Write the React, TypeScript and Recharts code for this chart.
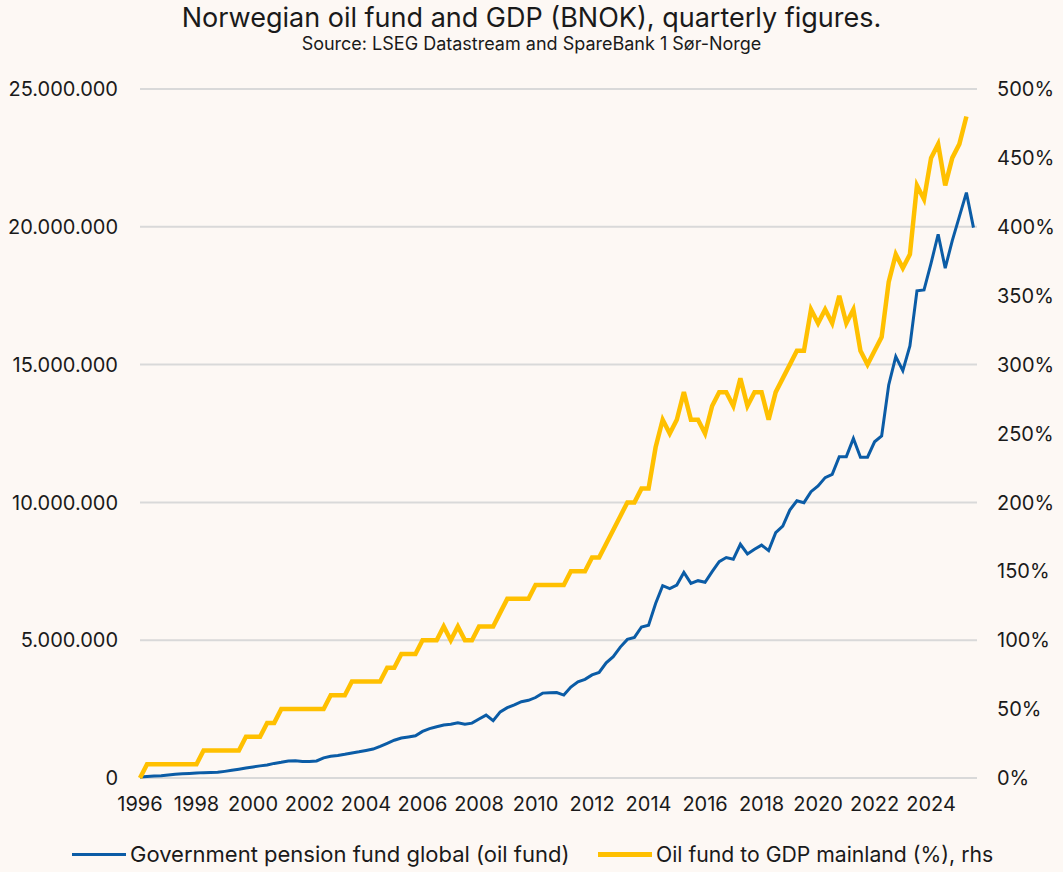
import React from 'react';
import { LineChart, Line, XAxis, YAxis, CartesianGrid } from 'recharts';

const quarters: string[] = [
  '1996Q1','1996Q2','1996Q3','1996Q4','1997Q1','1997Q2','1997Q3','1997Q4',
  '1998Q1','1998Q2','1998Q3','1998Q4','1999Q1','1999Q2','1999Q3','1999Q4',
  '2000Q1','2000Q2','2000Q3','2000Q4','2001Q1','2001Q2','2001Q3','2001Q4',
  '2002Q1','2002Q2','2002Q3','2002Q4','2003Q1','2003Q2','2003Q3','2003Q4',
  '2004Q1','2004Q2','2004Q3','2004Q4','2005Q1','2005Q2','2005Q3','2005Q4',
  '2006Q1','2006Q2','2006Q3','2006Q4','2007Q1','2007Q2','2007Q3','2007Q4',
  '2008Q1','2008Q2','2008Q3','2008Q4','2009Q1','2009Q2','2009Q3','2009Q4',
  '2010Q1','2010Q2','2010Q3','2010Q4','2011Q1','2011Q2','2011Q3','2011Q4',
  '2012Q1','2012Q2','2012Q3','2012Q4','2013Q1','2013Q2','2013Q3','2013Q4',
  '2014Q1','2014Q2','2014Q3','2014Q4','2015Q1','2015Q2','2015Q3','2015Q4',
  '2016Q1','2016Q2','2016Q3','2016Q4','2017Q1','2017Q2','2017Q3','2017Q4',
  '2018Q1','2018Q2','2018Q3','2018Q4','2019Q1','2019Q2','2019Q3','2019Q4',
  '2020Q1','2020Q2','2020Q3','2020Q4','2021Q1','2021Q2','2021Q3','2021Q4',
  '2022Q1','2022Q2','2022Q3','2022Q4','2023Q1','2023Q2','2023Q3','2023Q4',
  '2024Q1','2024Q2','2024Q3','2024Q4','2025Q1','2025Q2','2025Q3',
];

// Government pension fund global, NOK million
const oilFund: number[] = [
  40000, 55000, 70000, 85000,
  110000, 140000, 150000, 165000,
  180000, 195000, 200000, 205000,
  240000, 280000, 320000, 360000,
  400000, 440000, 470000, 530000,
  570000, 620000, 630000, 600000,
  595000, 620000, 730000, 790000,
  820000, 860000, 910000, 950000,
  1000000, 1050000, 1150000, 1260000,
  1370000, 1450000, 1490000, 1530000,
  1690000, 1790000, 1860000, 1920000,
  1950000, 2000000, 1950000, 1990000,
  2140000, 2280000, 2080000, 2400000,
  2550000, 2650000, 2770000, 2820000,
  2920000, 3080000, 3090000, 3100000,
  3010000, 3300000, 3490000, 3580000,
  3740000, 3830000, 4180000, 4400000,
  4750000, 5030000, 5100000, 5480000,
  5540000, 6330000, 6980000, 6870000,
  7000000, 7460000, 7060000, 7160000,
  7100000, 7490000, 7850000, 8000000,
  7940000, 8480000, 8130000, 8300000,
  8450000, 8250000, 8900000, 9140000,
  9720000, 10060000, 9990000, 10390000,
  10600000, 10900000, 11020000, 11660000,
  11660000, 12320000, 11640000, 11640000,
  12200000, 12410000, 14260000, 15290000,
  14780000, 15680000, 17680000, 17710000,
  18680000, 19730000, 18500000, 19500000,
  20370000, 21240000, 19970000,
];

// Oil fund to GDP mainland, %
const fundToGdp: (number | null)[] = [
  0, 10, 10, 10,
  10, 10, 10, 10,
  10, 20, 20, 20,
  20, 20, 20, 30,
  30, 30, 40, 40,
  50, 50, 50, 50,
  50, 50, 50, 60,
  60, 60, 70, 70,
  70, 70, 70, 80,
  80, 90, 90, 90,
  100, 100, 100, 110,
  100, 110, 100, 100,
  110, 110, 110, 120,
  130, 130, 130, 130,
  140, 140, 140, 140,
  140, 150, 150, 150,
  160, 160, 170, 180,
  190, 200, 200, 210,
  210, 240, 260, 250,
  260, 280, 260, 260,
  250, 270, 280, 280,
  270, 290, 270, 280,
  280, 260, 280, 290,
  300, 310, 310, 340,
  330, 340, 330, 350,
  330, 340, 310, 300,
  310, 320, 360, 380,
  370, 380, 430, 420,
  450, 460, 430, 450,
  460, 480, null,
];

const tickYears: number[] = [1996, 1998, 2000, 2002, 2004, 2006, 2008, 2010, 2012, 2014, 2016, 2018, 2020, 2022, 2024];
const leftTicks: number[] = [0, 5000000, 10000000, 15000000, 20000000, 25000000];
const rightTicks: number[] = [0, 50, 100, 150, 200, 250, 300, 350, 400, 450, 500];

const TITLE = 'Norwegian oil fund and GDP (BNOK), quarterly figures.';
const SUBTITLE = 'Source: LSEG Datastream and SpareBank 1 Sør-Norge';
const SERIES_FUND = 'Government pension fund global (oil fund)';
const SERIES_RATIO = 'Oil fund to GDP mainland (%), rhs';

const BG = '#fdf8f4';
const BLUE = '#0b5ca6';
const YELLOW = '#ffc000';
const TEXT = '#1a1a1a';
const GRID = '#d9d9d9';
const FONT = 'Inter, "Open Sans", sans-serif';

const fmtDots = (v: number) => String(Math.round(v)).replace(/\B(?=(\d{3})+(?!\d))/g, '.');

export default function App() {
  const data = quarters.map((q, i) => ({ i, q, fund: oilFund[i], ratio: fundToGdp[i] }));
  const xTicks = tickYears.map((y) => quarters.indexOf(`${y}Q1`));
  const labelFor = (v: number) => {
    const q = quarters[Math.round(v)];
    return q ? q.slice(0, 4) : '';
  };
  const tickStyle = { fontSize: 20, fill: TEXT, fontFamily: FONT };
  return (
    <div style={{ position: 'fixed', left: 0, top: 0, width: 1063, height: 872, background: BG, fontFamily: FONT, color: TEXT, overflow: 'hidden' }}>
      <div style={{ position: 'absolute', top: 2, left: 0, width: 1063, textAlign: 'center', fontSize: 27, lineHeight: '32px' }}>{TITLE}</div>
      <div style={{ position: 'absolute', top: 34, left: 0, width: 1063, textAlign: 'center', fontSize: 18, lineHeight: '20px' }}>{SUBTITLE}</div>
      <div style={{ position: 'absolute', left: 0, top: 0 }}>
        <LineChart width={1063} height={872} data={data} margin={{ top: 89, right: 0, bottom: 0, left: 0 }}>
          <CartesianGrid vertical={false} stroke={GRID} strokeWidth={2} yAxisId="left" />
          <XAxis
            type="number"
            dataKey="i"
            domain={[0, 118.5]}
            ticks={xTicks}
            interval={0}
            tickFormatter={labelFor}
            height={94}
            axisLine={false}
            tickLine={false}
            tickSize={0}
            tickMargin={19}
            tick={tickStyle}
          />
          <YAxis
            yAxisId="left"
            width={140}
            domain={[0, 25000000]}
            ticks={leftTicks}
            interval={0}
            tickFormatter={fmtDots}
            axisLine={false}
            tickLine={false}
            tickSize={0}
            tickMargin={22}
            tick={tickStyle}
          />
          <YAxis
            yAxisId="right"
            orientation="right"
            width={86}
            domain={[0, 500]}
            ticks={rightTicks}
            interval={0}
            tickFormatter={(v: number) => `${v}%`}
            axisLine={false}
            tickLine={false}
            tickSize={0}
            tickMargin={20}
            tick={tickStyle}
          />
          <Line yAxisId="left" type="linear" dataKey="fund" name={SERIES_FUND} stroke={BLUE} strokeWidth={3} dot={false} activeDot={false} isAnimationActive={false} />
          <Line yAxisId="right" type="linear" dataKey="ratio" name={SERIES_RATIO} stroke={YELLOW} strokeWidth={4.5} dot={false} activeDot={false} isAnimationActive={false} />
        </LineChart>
      </div>
      <div style={{ position: 'absolute', top: 841, left: 72, display: 'flex', alignItems: 'center', fontSize: 22, lineHeight: '26px', whiteSpace: 'nowrap' }}>
        <span style={{ display: 'inline-block', width: 54, height: 3, background: BLUE, marginRight: 4 }} />
        <span>{SERIES_FUND}</span>
      </div>
      <div style={{ position: 'absolute', top: 841, left: 598, display: 'flex', alignItems: 'center', fontSize: 21.2, lineHeight: '26px', whiteSpace: 'nowrap' }}>
        <span style={{ display: 'inline-block', width: 54, height: 5, background: YELLOW, marginRight: 4 }} />
        <span>{SERIES_RATIO}</span>
      </div>
    </div>
  );
}
